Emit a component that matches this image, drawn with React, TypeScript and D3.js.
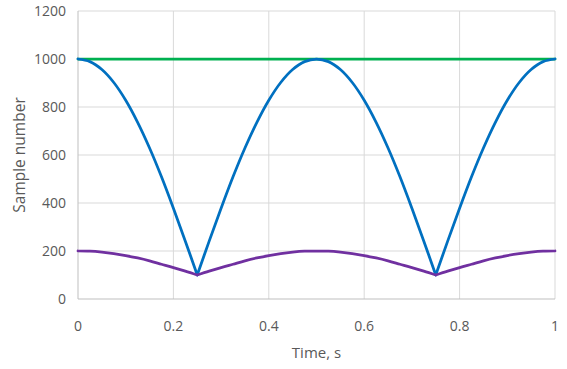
import { useEffect, useRef } from 'react'
import * as d3 from 'd3'

// time samples (s)
const times = [
  0, 0.025, 0.05, 0.075, 0.1, 0.125, 0.15, 0.175, 0.2, 0.225, 0.25,
  0.275, 0.3, 0.325, 0.35, 0.375, 0.4, 0.425, 0.45, 0.475, 0.5,
  0.525, 0.55, 0.575, 0.6, 0.625, 0.65, 0.675, 0.7, 0.725, 0.75,
  0.775, 0.8, 0.825, 0.85, 0.875, 0.9, 0.925, 0.95, 0.975, 1,
]
const greenValues = [
  1000, 1000, 1000, 1000, 1000, 1000, 1000, 1000, 1000, 1000, 1000,
  1000, 1000, 1000, 1000, 1000, 1000, 1000, 1000, 1000, 1000,
  1000, 1000, 1000, 1000, 1000, 1000, 1000, 1000, 1000, 1000,
  1000, 1000, 1000, 1000, 1000, 1000, 1000, 1000, 1000, 1000,
]
const blueValues = [
  1000, 989, 956, 902, 828, 736, 629, 509, 378, 241, 100,
  241, 378, 509, 629, 736, 828, 902, 956, 989, 1000,
  989, 956, 902, 828, 736, 629, 509, 378, 241, 100,
  241, 378, 509, 629, 736, 828, 902, 956, 989, 1000,
]
const purpleValues = [
  200, 199, 195, 189, 181, 171, 159, 145, 131, 116, 100,
  116, 131, 145, 159, 171, 181, 189, 195, 199, 200,
  199, 195, 189, 181, 171, 159, 145, 131, 116, 100,
  116, 131, 145, 159, 171, 181, 189, 195, 199, 200,
]
const xTicks = [0, 0.2, 0.4, 0.6, 0.8, 1]
const yTicks = [0, 200, 400, 600, 800, 1000, 1200]

// split a series at its sharp minima so each arc is smoothed on its own
function splitAtMinima(values: number[]) {
  const pts = times.map((t, i) => [t, values[i]] as [number, number])
  const parts: [number, number][][] = []
  let start = 0
  for (let i = 1; i < pts.length - 1; i++) {
    if (values[i] < values[i - 1] && values[i] < values[i + 1]) {
      parts.push(pts.slice(start, i + 1))
      start = i
    }
  }
  parts.push(pts.slice(start))
  return parts
}

export default function App() {
  const svgRef = useRef<SVGSVGElement>(null)

  useEffect(() => {
    const width = 567
    const height = 369
    const marginLeft = 78
    const marginRight = 12
    const marginTop = 11
    const marginBottom = 70
    const font = "'Open Sans', sans-serif"
    const textColor = '#595959'

    const x = d3.scaleLinear().domain([0, 1]).range([marginLeft, width - marginRight])
    const y = d3.scaleLinear().domain([0, 1200]).range([height - marginBottom, marginTop])

    const svg = d3.select(svgRef.current)
    svg.selectAll('*').remove()
    svg.attr('width', width).attr('height', height)

    // grid
    svg.append('g')
      .selectAll('line')
      .data(yTicks.slice(1))
      .join('line')
      .attr('x1', x(0)).attr('x2', x(1))
      .attr('y1', (d) => y(d)).attr('y2', (d) => y(d))
      .attr('stroke', '#d9d9d9')
    svg.append('g')
      .selectAll('line')
      .data(xTicks.slice(1))
      .join('line')
      .attr('x1', (d) => x(d)).attr('x2', (d) => x(d))
      .attr('y1', y(0)).attr('y2', y(1200))
      .attr('stroke', '#d9d9d9')
    // axis lines
    svg.append('line')
      .attr('x1', x(0)).attr('x2', x(1))
      .attr('y1', y(0)).attr('y2', y(0))
      .attr('stroke', '#bfbfbf')
    svg.append('line')
      .attr('x1', x(0)).attr('x2', x(0))
      .attr('y1', y(0)).attr('y2', y(1200))
      .attr('stroke', '#bfbfbf')

    // tick labels
    svg.append('g')
      .selectAll('text')
      .data(yTicks)
      .join('text')
      .attr('x', x(0) - 12)
      .attr('y', (d) => y(d))
      .attr('dy', '0.35em')
      .attr('text-anchor', 'end')
      .style('font-family', font)
      .style('font-size', '14px')
      .style('fill', textColor)
      .text((d) => d)
    svg.append('g')
      .selectAll('text')
      .data(xTicks)
      .join('text')
      .attr('x', (d) => x(d))
      .attr('y', y(0) + 32)
      .attr('text-anchor', 'middle')
      .style('font-family', font)
      .style('font-size', '14px')
      .style('fill', textColor)
      .text((d) => d)

    // axis titles
    svg.append('text')
      .attr('x', (x(0) + x(1)) / 2)
      .attr('y', height - 11)
      .attr('text-anchor', 'middle')
      .style('font-family', font)
      .style('font-size', '15px')
      .style('fill', textColor)
      .text('Time, s')
    svg.append('text')
      .attr('transform', `translate(25,${(y(0) + y(1200)) / 2}) rotate(-90)`)
      .attr('text-anchor', 'middle')
      .style('font-family', font)
      .style('font-size', '15.5px')
      .style('fill', textColor)
      .text('Sample number')

    // series
    const series = [
      { values: greenValues, color: '#00b050' },
      { values: blueValues, color: '#0070c0' },
      { values: purpleValues, color: '#7030a0' },
    ]
    const line = d3.line<[number, number]>()
      .x((d) => x(d[0]))
      .y((d) => y(d[1]))
      .curve(d3.curveCatmullRom.alpha(0.5))
    series.forEach((s) => {
      svg.append('path')
        .attr('fill', 'none')
        .attr('stroke', s.color)
        .attr('stroke-width', 2.75)
        .attr('stroke-linejoin', 'round')
        .attr('stroke-linecap', 'round')
        .attr('d', splitAtMinima(s.values).map((p) => line(p)).join(''))
    })
  }, [])

  return (
    <div style={{ position: 'absolute', left: 0, top: 0 }}>
      <svg ref={svgRef}></svg>
    </div>
  )
}
